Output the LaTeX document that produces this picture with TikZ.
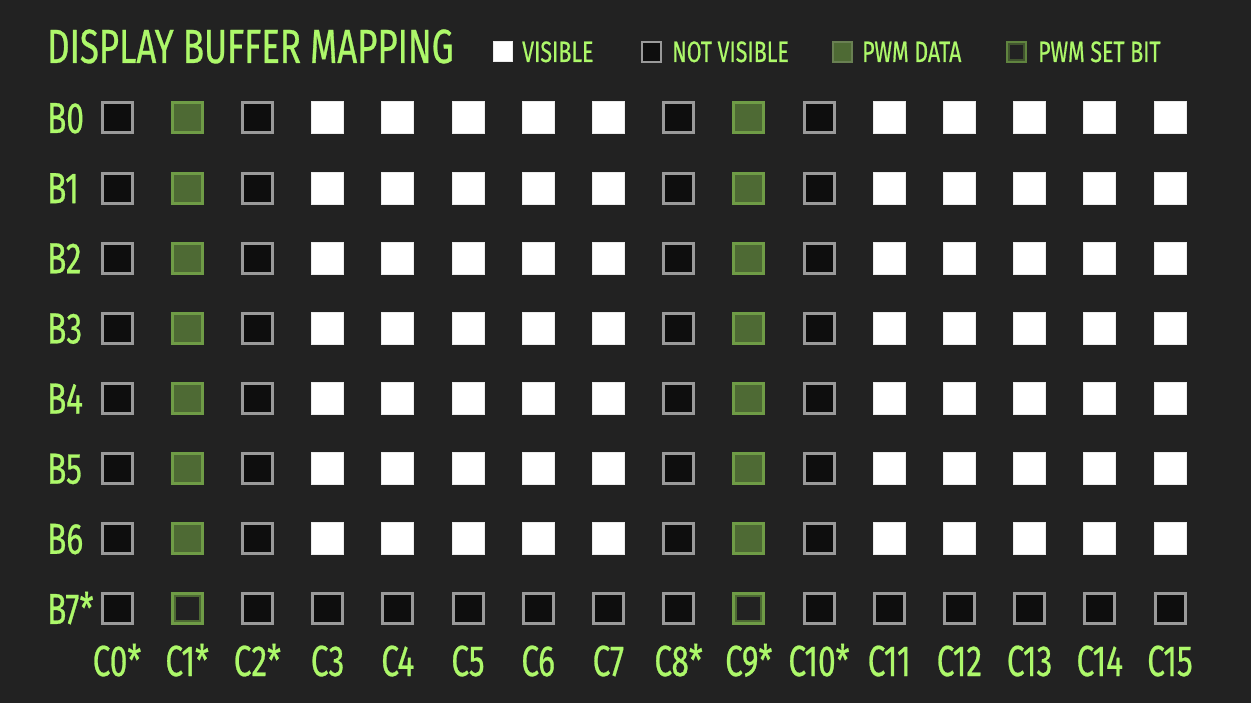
\documentclass[tikz,border=0pt]{standalone}
\usepackage{fontspec}
\setmainfont{Fira Sans}[FakeStretch=0.725, FakeBold=0.6]
\definecolor{bg}{HTML}{222222}
\definecolor{lime}{HTML}{ADF86A}
\definecolor{pwmfill}{HTML}{4E6A34}
\definecolor{pwmedge}{HTML}{6F9C46}
\definecolor{nvfill}{HTML}{0E0E0E}
\definecolor{nvedge}{HTML}{9A9A9A}
\tikzset{
  cell/.style={inner sep=0pt, minimum size=30pt, line width=3pt},
  vis/.style={cell, fill=white, draw=white!92!black, line width=1pt, minimum size=32pt},
  nvis/.style={cell, fill=nvfill, draw=nvedge},
  pwm/.style={cell, fill=pwmfill, draw=pwmedge},
  pset/.style={cell, fill=bg, draw=pwmedge,
    path picture={\draw[pwmfill, line width=7pt] (path picture bounding box.north west) rectangle (path picture bounding box.south east);}},
  lg/.style={inner sep=0pt, minimum width=19pt, minimum height=20pt, line width=2pt},
  lbl/.style={text=lime, inner sep=0pt, font=\fontsize{43.5}{44}\selectfont},
  ttl/.style={text=lime, inner sep=0pt, font=\fontsize{48}{50}\selectfont},
  lgt/.style={text=lime, inner sep=0pt, font=\fontsize{29.5}{30}\selectfont},
}
\begin{document}
\begin{tikzpicture}[x=1pt,y=-1pt]
\fill[bg] (0,0) rectangle (1251,703);
\useasboundingbox (0,0) rectangle (1251,703);
% title
\node[ttl, anchor=base west] (title) at (47,63) {DISPLAY BUFFER MAPPING};
% legend
\node[lg, fill=white, draw=white!92!black, line width=1pt] (lv) at (502.5,52) {};
\node[lgt, anchor=base west] (lvt) at (522,62) {VISIBLE};
\node[lg, fill=nvfill, draw=nvedge] (ln) at (651.5,52) {};
\node[lgt, anchor=base west] (lnt) at (672,62) {NOT VISIBLE};
\node[lg, fill=pwmfill, draw=pwmfill!85!white] (lp) at (842.5,52) {};
\node[lgt, anchor=base west] (lpt) at (862,62) {PWM DATA};
\node[lg, fill=bg, draw=pwmedge!80!bg,
  path picture={\draw[pwmfill!70!bg, line width=6pt] (path picture bounding box.north west) rectangle (path picture bounding box.south east);}] (ls) at (1016,52) {};
\node[lgt, anchor=base west] (lst) at (1038,62) {PWM SET BIT};
% grid
\foreach \c in {0,...,15}{
  \foreach \r in {0,...,7}{
    \pgfmathsetmacro{\xx}{117+70.2*\c}
    \pgfmathsetmacro{\yy}{118+70.14*\r}
    \ifnum\c=0 \def\kind{nvis}\else
    \ifnum\c=2 \def\kind{nvis}\else
    \ifnum\c=8 \def\kind{nvis}\else
    \ifnum\c=10 \def\kind{nvis}\else
    \ifnum\c=1 \ifnum\r=7 \def\kind{pset}\else\def\kind{pwm}\fi\else
    \ifnum\c=9 \ifnum\r=7 \def\kind{pset}\else\def\kind{pwm}\fi\else
    \ifnum\r=7 \def\kind{nvis}\else\def\kind{vis}\fi
    \fi\fi\fi\fi\fi\fi
    \node[\kind] (c-\c-\r) at (\xx,\yy) {};
  }
}
% row labels
\foreach \r/\t in {0/B0,1/B1,2/B2,3/B3,4/B4,5/B5,6/B6,7/B7*}{
  \pgfmathsetmacro{\yy}{133+70.14*\r}
  \node[lbl, anchor=base west] (row-\r) at (47,\yy) {\t};
}
% column labels
\foreach \c/\t in {0/C0*,1/C1*,2/C2*,3/C3,4/C4,5/C5,6/C6,7/C7,8/C8*,9/C9*,10/C10*,11/C11,12/C12,13/C13,14/C14,15/C15}{
  \pgfmathsetmacro{\xx}{117+70.2*\c}
  \node[lbl, anchor=base] (col-\c) at (\xx,676) {\t};
}
\end{tikzpicture}
\end{document}
